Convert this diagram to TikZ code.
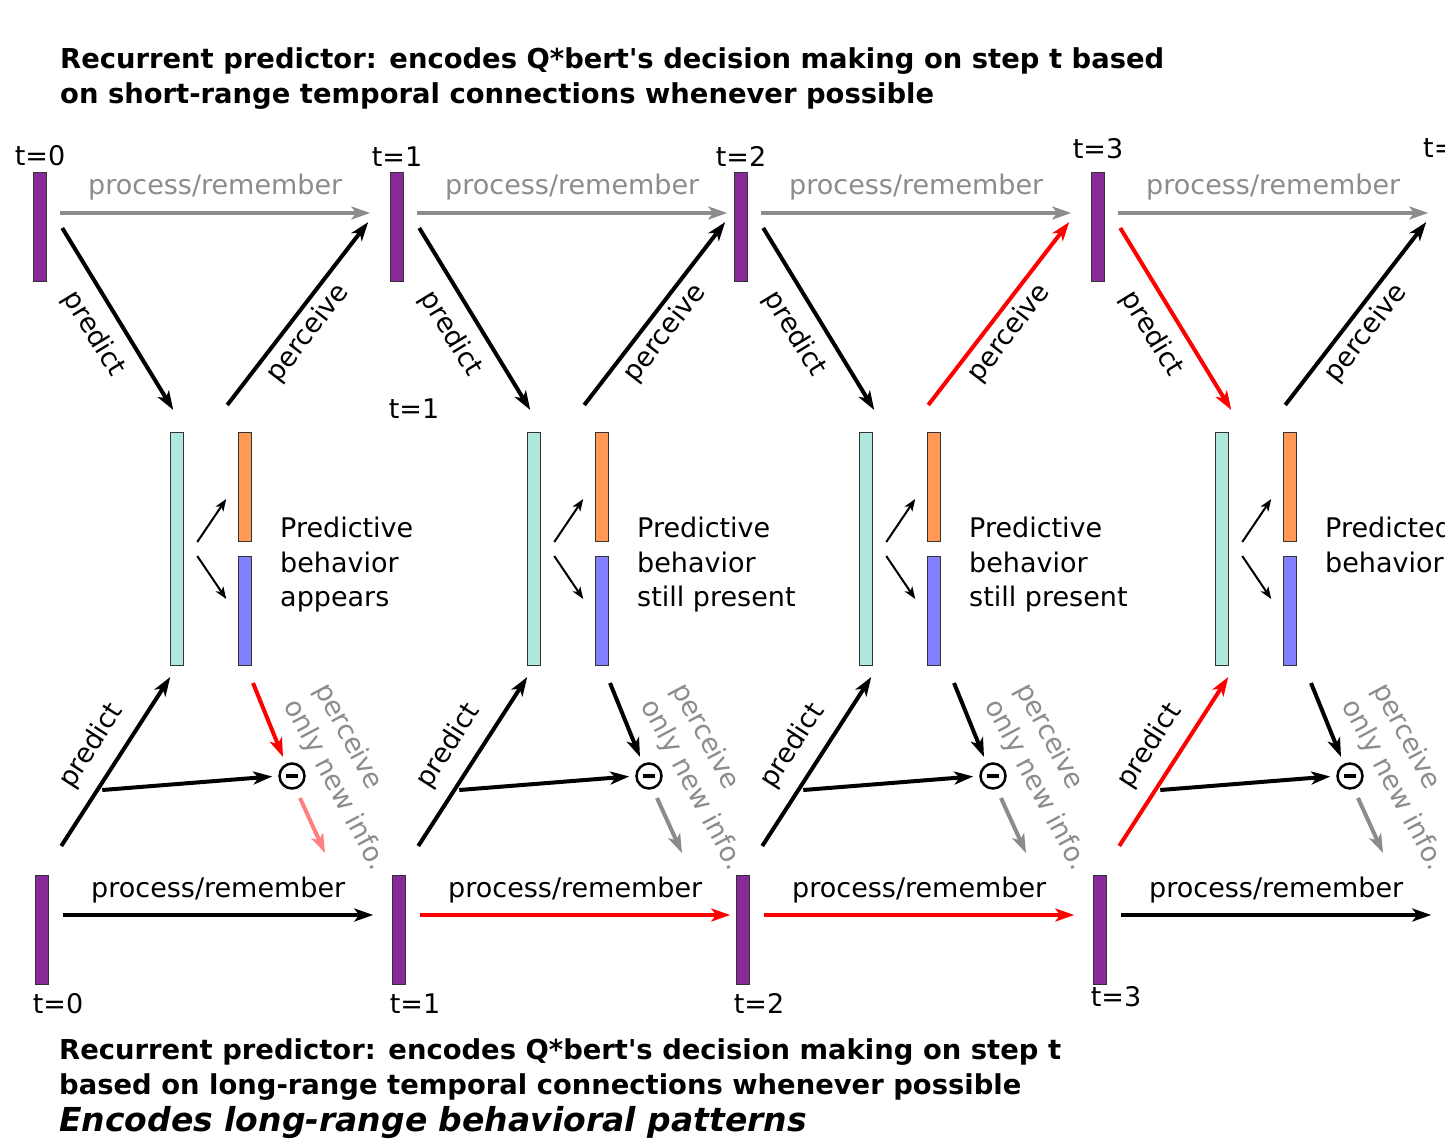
\documentclass[tikz,border=0pt]{standalone}
\usepackage{fontspec}
\setmainfont{DejaVu Sans}[ItalicFont={DejaVu Sans Oblique},BoldItalicFont={DejaVu Sans Bold Oblique}]
\usetikzlibrary{arrows.meta,positioning,calc}

\definecolor{statecol}{RGB}{136,42,153}
\definecolor{hidcol}{RGB}{175,233,221}
\definecolor{outacol}{RGB}{255,153,85}
\definecolor{outbcol}{RGB}{128,128,255}
\definecolor{greycol}{RGB}{140,140,140}
\definecolor{pinkcol}{RGB}{255,128,128}
\definecolor{redcol}{RGB}{255,0,0}

\begin{document}
\begin{tikzpicture}
[x=1pt,y=-1pt,
>={Stealth[length=19pt,width=13pt,inset=5pt]},
every node/.style={font=\fontsize{27}{34.5}\selectfont},
title/.style={anchor=base west,inner sep=0pt,font=\fontsize{27.4}{34}\selectfont\bfseries},
bar/.style={draw=black!80,line width=1.5pt,inner sep=0pt,minimum width=13pt},
state/.style={bar,fill=statecol,minimum height=109pt},
hid/.style={bar,fill=hidcol,minimum height=233pt},
outa/.style={bar,fill=outacol,minimum height=109pt},
outb/.style={bar,fill=outbcol,minimum height=109pt},
link/.style={->,line width=4pt},
small/.style={-{Stealth[length=12pt,width=9pt,inset=3pt]},line width=2pt},
diff/.style={circle,draw,line width=2.5pt,minimum size=25pt,inner sep=0pt,
  path picture={\draw[line width=3.5pt] (path picture bounding box.center) ++(-6pt,0pt) -- ++(12pt,0pt);}}]
  \useasboundingbox (0,0) rectangle (1445,1143);

  \node[title] (ttl1) at (60,68) {Recurrent predictor: encodes Q*bert\textquotesingle s decision making on step t based};
  \node[title] (ttl2) at (60,103) {on short-range temporal connections whenever possible};

  \foreach \k/\xt/\xh/\dy/\kpa/\kpb/\kpc/\kpd/\kpe/\kpf/\txt in {
    0/40/177/0/black/black/black/redcol/pinkcol/black/{Predictive\\behavior\\appears},
    1/397/534/0/black/black/black/black/greycol/redcol/{Predictive\\behavior\\still present},
    2/741/866/0/black/redcol/black/black/greycol/redcol/{Predictive\\behavior\\still present},
    3/1098/1222/1/redcol/black/redcol/black/greycol/black/{Predicted\\behavior}}
  {
    \node[state] (s\k) at (\xt,227) {};
    \node[above=2pt of s\k,yshift=\dy*7pt] (ts\k) {t=\k};
    \node[state] (b\k) at (\xt+2,930) {};
    \node[below=5pt of b\k,xshift=16pt,yshift=\dy*7pt] (tb\k) {t=\k};
    \node[hid] (h\k) at (\xh,549) {};
    \node[outa] (o\k) at (\xh+68,487) {};
    \node[outb] (u\k) at (\xh+68,611) {};
    \node[anchor=north west,align=left,inner sep=0pt] (c\k) at (\xh+103,517) {\txt};
    \node[diff] (d\k) at (\xt+252,776) {};
    \node[rotate=-62,align=left,text=greycol] (n\k) at ($(d\k)+(58,1)$) {perceive\\only new info.};
    \coordinate (m\k) at ($(b\k.east)+(53,-140)$);

    \draw[link,greycol] ($(s\k.east)+(13,-14)$) -- node[above=8pt]{process/remember} ($(s\k.east)+(323,-14)$);
    \draw[link,\kpa] ($(s\k.east)+(15,1)$) -- node[sloped,below=10pt,text=black]{predict} ($(s\k.east)+(126,183)$);
    \draw[link,\kpb] ($(s\k.east)+(180,178)$) -- node[pos=0.46,sloped,below=2pt,text=black]{perceive} ($(s\k.east)+(321,-5)$);
    \draw[small] ($(h\k.east)+(13,-7)$) -- ($(h\k.east)+(42,-50)$);
    \draw[small] ($(h\k.east)+(13,7)$) -- ($(h\k.east)+(42,50)$);
    \draw[link,\kpf] ($(b\k.east)+(14,-15)$) -- node[above=7pt,text=black]{process/remember} ($(b\k.east)+(324,-15)$);
    \draw[link,\kpc] ($(b\k.east)+(12,-84)$) -- node[sloped,above=10pt,text=black]{predict} ($(b\k.east)+(121,-253)$);
    \draw[link,shorten >=6pt] (m\k) -- (d\k.west);
    \draw[link,\kpd] ($(d\k)+(-39,-93)$) -- ($(d\k)+(-9,-19)$);
    \draw[link,\kpe] ($(d\k)+(8,22)$) -- ($(d\k)+(33,77)$);
  }

  \node (tx) at (414,409) {t=1};
  \node[anchor=west,inner sep=0pt] (t4) at (1423,148) {t=4};

  \node[title] (btl1) at (59,1059) {Recurrent predictor: encodes Q*bert\textquotesingle s decision making on step t};
  \node[title] (btl2) at (59,1094) {based on long-range temporal connections whenever possible};
  \node[title,font=\fontsize{33}{40}\selectfont\bfseries\itshape] (btl3) at (59,1131) {Encodes long-range behavioral patterns};
\end{tikzpicture}
\end{document}
